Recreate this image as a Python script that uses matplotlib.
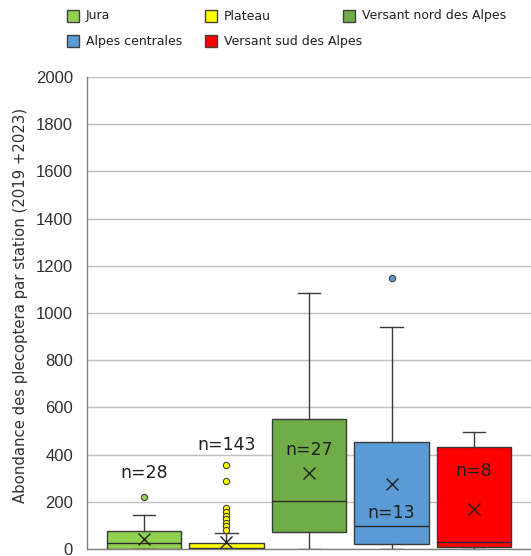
import matplotlib.pyplot as plt
import matplotlib.patches as mpatches

# summary statistics
regions = ['Jura', 'Plateau', 'Versant nord des Alpes', 'Alpes centrales', 'Versant sud des Alpes']
colors = ['#92D050', '#FFFF00', '#70AD47', '#5B9BD5', '#FF0000']
q1 = [2, 0, 72, 20, 7]
med = [25, 5, 203, 97, 28]
q3 = [78, 24, 550, 452, 434]
whislo = [0, 0, 0, 0, 2]
whishi = [145, 66, 1086, 942, 494]
means = [41, 30, 323, 274, 168]
fliers = [[219], [356, 290, 172, 157, 141, 126, 112, 97, 81], [], [1148], []]
n_labels = ['n=28', 'n=143', 'n=27', 'n=13', 'n=8']
n_label_y = [323, 441, 420, 151, 332]
yticks = [0, 200, 400, 600, 800, 1000, 1200, 1400, 1600, 1800, 2000]

fig = plt.figure(figsize=(5.31, 5.56), dpi=100)
ax = fig.add_axes([0.1638, 0.0126, 0.8362, 0.849])

stats = []
for i in range(len(regions)):
    stats.append(dict(q1=q1[i], med=med[i], q3=q3[i], whislo=whislo[i],
                      whishi=whishi[i], mean=means[i], fliers=fliers[i]))

positions = list(range(1, len(regions) + 1))
bp = ax.bxp(stats, positions=positions, widths=0.9, capwidths=0.27,
            patch_artist=True, showmeans=True,
            boxprops=dict(edgecolor='#3A3A3A', linewidth=1.0),
            medianprops=dict(color='#2A2A2A', linewidth=1.0),
            whiskerprops=dict(color='#3A3A3A', linewidth=1.0),
            capprops=dict(color='#3A3A3A', linewidth=1.0),
            meanprops=dict(marker='x', markeredgecolor='#202020',
                           markersize=8, markeredgewidth=1.0),
            flierprops=dict(marker='o', markersize=4.5,
                            markeredgecolor='#404040', markeredgewidth=0.8))
for box, fl, c in zip(bp['boxes'], bp['fliers'], colors):
    box.set_facecolor(c)
    fl.set_markerfacecolor(c)

for x, y, t in zip(positions, n_label_y, n_labels):
    ax.text(x, y, t, ha='center', va='center', fontsize=12.5,
            color='#202020', family='DejaVu Sans')

ax.set_xlim(0.31, 5.69)
ax.set_ylim(0, 2000)
ax.set_yticks(yticks)
ax.set_yticklabels([str(v) for v in yticks], family='Liberation Sans',
                   fontsize=12, color='#303030')
ax.set_xticks([])
ax.tick_params(axis='y', length=0, pad=10)
ax.grid(axis='y', color='#BFBFBF', linewidth=1.0)
ax.set_axisbelow(True)
for s in ['top', 'right']:
    ax.spines[s].set_visible(False)
for s in ['left', 'bottom']:
    ax.spines[s].set_color('#808080')
    ax.spines[s].set_linewidth(1.0)

fig.text(0.038, 0.45, 'Abondance des plecoptera par station (2019 +2023)',
         rotation=90, ha='center', va='center', fontsize=10.7, color='#303030',
         family='DejaVu Sans')

# legend, laid out by hand in two rows
leg_slots = [(67, 16), (205, 16), (343, 16), (67, 41), (205, 41)]
W, H = 531.0, 556.0
for (px, py), name, c in zip(leg_slots, regions, colors):
    fig.patches.append(mpatches.Rectangle((px / W, 1 - (py + 6) / H), 12 / W, 12 / H,
                                          transform=fig.transFigure, facecolor=c,
                                          edgecolor='#404040', linewidth=1.0))
    fig.text((px + 19) / W, 1 - py / H, name, ha='left', va='center',
             fontsize=9.0, color='#202020', family='DejaVu Sans')

fig.savefig('out.png', dpi=100)
